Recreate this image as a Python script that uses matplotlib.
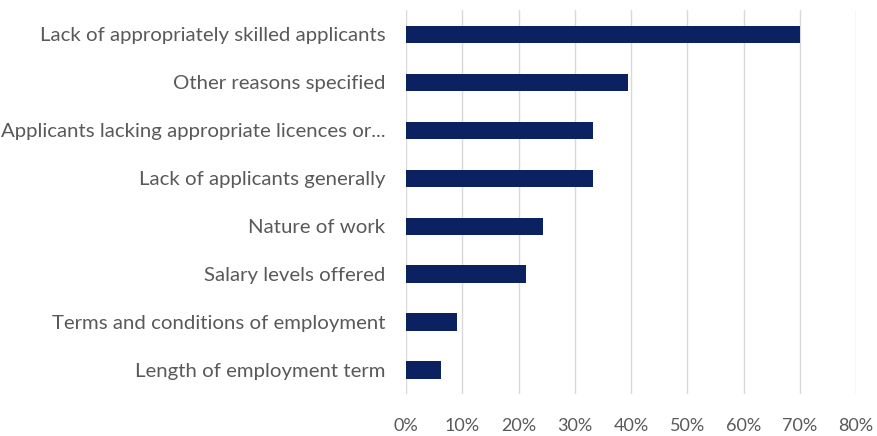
import matplotlib
matplotlib.use('Agg')
import matplotlib.pyplot as plt
from matplotlib.ticker import PercentFormatter

reasons = ['Lack of appropriately skilled applicants',
           'Other reasons specified',
           'Applicants lacking appropriate licences or...',
           'Lack of applicants generally',
           'Nature of work',
           'Salary levels offered',
           'Terms and conditions of employment',
           'Length of employment term']
shares = [0.70, 0.394, 0.332, 0.332, 0.243, 0.214, 0.090, 0.062]
xticks = [0, 0.1, 0.2, 0.3, 0.4, 0.5, 0.6, 0.7, 0.8]

plt.rcParams['font.family'] = ['Lato', 'DejaVu Sans']

fig = plt.figure(figsize=(8.78, 4.36), dpi=100)
ax = fig.add_axes([0.4624, 0.0963, 0.5126, 0.8807])

pos = list(range(len(reasons)))
ax.barh(pos, shares, height=0.355, color='#0B2160', zorder=3)

ax.set_ylim(len(reasons) - 0.5, -0.5)
ax.set_xlim(0, 0.8)
ax.set_xticks(xticks)
ax.xaxis.set_major_formatter(PercentFormatter(1.0, decimals=0))
ax.set_yticks(pos)
ax.set_yticklabels(reasons)

ax.xaxis.grid(color='#d9d9d9', linewidth=1)
ax.set_axisbelow(True)
for s in ax.spines.values():
    s.set_visible(False)
ax.tick_params(axis='both', length=0, colors='#595959')
ax.tick_params(axis='y', pad=15, labelsize=14.7)
ax.tick_params(axis='x', pad=17, labelsize=13)

fig.savefig('out.png', dpi=100)
